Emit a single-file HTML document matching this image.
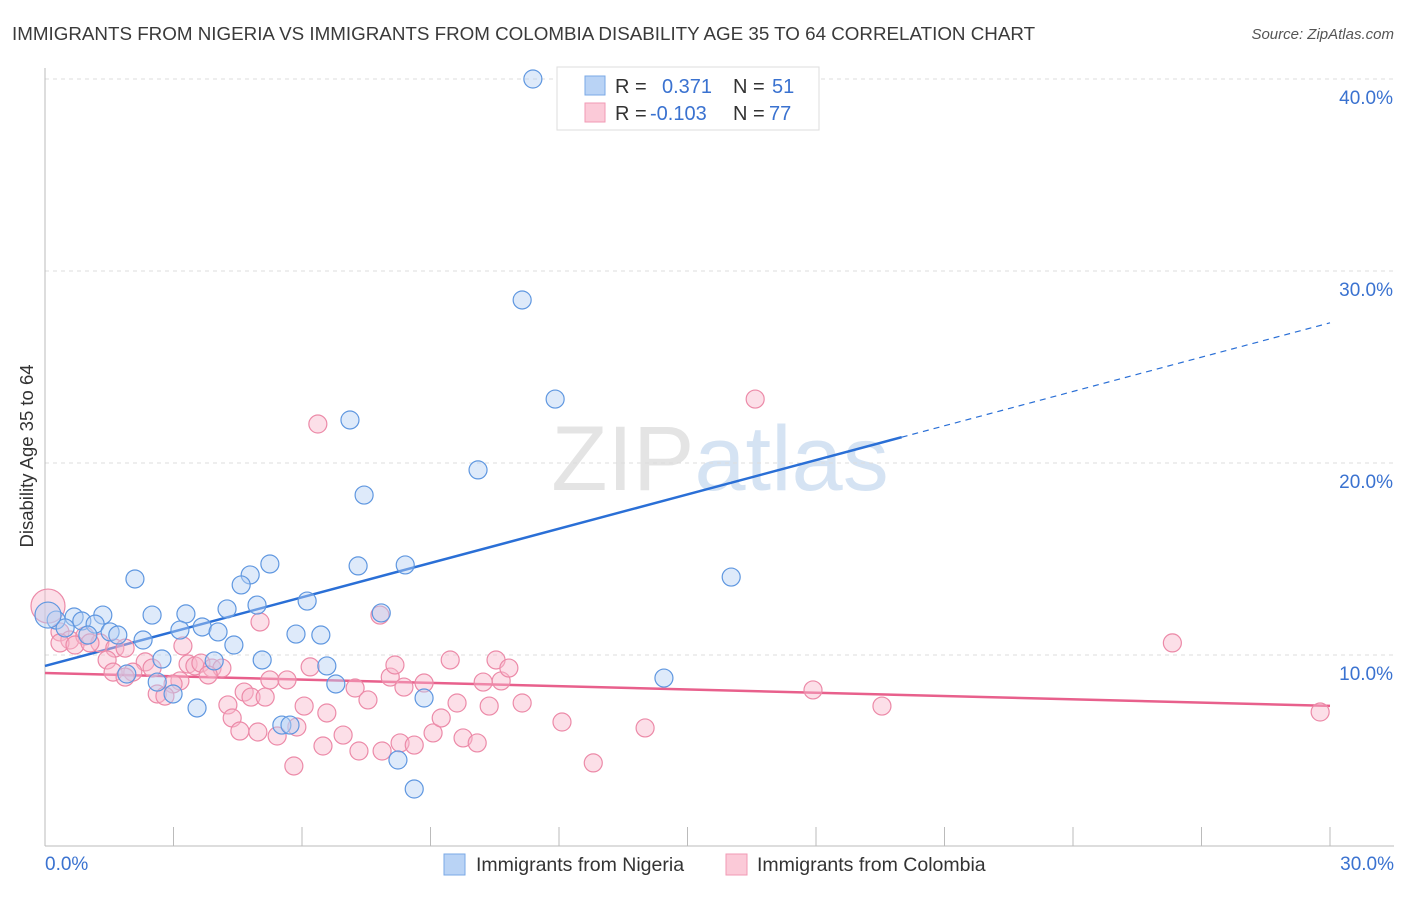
<!DOCTYPE html>
<html><head><meta charset="utf-8"><style>
body{margin:0;background:#fff;font-family:"Liberation Sans",sans-serif;}
svg text{font-family:"Liberation Sans",sans-serif;}
</style></head><body>
<svg id="chart" width="1406" height="892" xmlns="http://www.w3.org/2000/svg">
<text x="12" y="40" font-size="18.8" fill="#3a3a3a">IMMIGRANTS FROM NIGERIA VS IMMIGRANTS FROM COLOMBIA DISABILITY AGE 35 TO 64 CORRELATION CHART</text>
<text x="1394" y="39" font-size="15" fill="#555" text-anchor="end" font-style="italic">Source: ZipAtlas.com</text>
<text x="720" y="490" font-size="92" text-anchor="middle" fill="#e4e4e4" font-family="Liberation Serif">ZIP<tspan fill="#d5e3f3" font-family="Liberation Sans">atlas</tspan></text>
<text transform="translate(33,456) rotate(-90)" font-size="18.5" fill="#333" text-anchor="middle">Disability Age 35 to 64</text>
<g id="grid"></g><g id="axes"></g><g id="lines"></g><g id="pts"></g>
<g>
<rect x="557" y="67" width="262" height="63" fill="#fff" stroke="#ddd"/>
<rect x="585" y="76" width="20" height="19" fill="#b9d3f5" stroke="#7aa8e6"/>
<rect x="585" y="103" width="20" height="19" fill="#fbcad8" stroke="#f19ab4"/>
<text x="615" y="93" font-size="20" fill="#333">R =</text><text x="662" y="93" font-size="20" fill="#3a72d0">0.371</text>
<text x="733" y="93" font-size="20" fill="#333">N =</text><text x="772" y="93" font-size="20" fill="#3a72d0">51</text>
<text x="615" y="120" font-size="20" fill="#333">R =</text><text x="650" y="120" font-size="20" fill="#3a72d0">-0.103</text>
<text x="733" y="120" font-size="20" fill="#333">N =</text><text x="769" y="120" font-size="20" fill="#3a72d0">77</text>
</g>
<g>
<rect x="444" y="854" width="21" height="21" fill="#b9d3f5" stroke="#7aa8e6"/>
<text x="476" y="871" font-size="19.5" fill="#333">Immigrants from Nigeria</text>
<rect x="726" y="854" width="21" height="21" fill="#fbcad8" stroke="#f19ab4"/>
<text x="757" y="871" font-size="19.5" fill="#333">Immigrants from Colombia</text>
</g>
</svg>
<script>
const yTicks=[10,20,30,40];
const yTickLabels=["10.0%","20.0%","30.0%","40.0%"];
const xTickLabels=["0.0%","30.0%"];
const nigeriaX=[11.39,11.14,11.91,7.12,10.11,7.45,16.02,8.41,7.31,5.25,2.10,4.79,4.58,4.95,6.12,4.25,3.29,2.50,1.35,0.68,0.26,0.86,1.17,1.52,1.70,3.15,3.67,4.04,5.86,6.44,7.85,2.29,0.47,1.00,4.41,2.73,3.95,5.07,6.58,1.91,2.62,6.79,14.45,2.99,8.85,3.55,5.53,5.72,8.24,8.62,0.07];
const nigeriaY=[40.0,28.49,23.33,22.24,19.64,18.33,14.06,14.69,14.64,14.74,13.96,14.17,13.65,12.60,12.81,12.40,12.14,12.08,12.08,11.98,11.82,11.77,11.61,11.20,11.04,11.30,11.46,11.20,11.09,11.04,12.19,10.78,11.41,11.04,10.52,9.79,9.69,9.74,9.43,9.01,8.59,8.49,8.80,7.97,7.76,7.24,6.35,6.35,4.53,3.02,12.08];
const colombiaX=[6.37,16.58,7.82,26.32,0.07,5.02,0.35,0.58,0.93,1.28,1.63,0.35,0.70,1.05,1.87,3.22,1.45,2.34,2.50,2.05,1.59,1.87,3.34,3.50,3.64,3.90,4.13,3.81,3.15,2.99,2.62,2.80,4.65,4.81,5.14,4.27,4.37,4.55,5.25,5.65,6.19,6.05,5.88,5.42,5.81,6.49,6.58,6.96,7.24,7.33,7.54,7.87,8.06,8.17,8.38,8.29,8.62,8.85,9.06,9.25,9.46,9.62,9.76,10.09,10.23,10.37,10.53,10.65,10.83,11.14,12.07,12.80,14.01,17.93,19.54,29.77,4.97];
const colombiaY=[22.03,23.33,12.08,10.63,12.55,11.72,11.20,10.78,10.99,10.63,10.36,10.63,10.52,10.63,10.36,10.47,9.74,9.64,9.32,9.11,9.11,8.85,9.53,9.43,9.58,9.32,9.32,8.96,8.65,8.49,7.97,7.86,8.07,7.81,7.81,7.40,6.72,6.04,8.70,8.70,9.38,7.34,6.25,5.78,4.22,5.26,6.98,5.83,8.28,5.00,7.66,5.00,8.85,9.48,8.33,5.42,5.31,8.54,5.94,6.72,9.74,7.50,5.68,5.42,8.59,7.34,9.74,8.65,9.32,7.50,6.51,4.38,6.20,8.18,7.34,7.03,5.99];
const nigeriaTrend=[9.43,27.3];
const colombiaTrend=[9.06,7.35];
const NS="http://www.w3.org/2000/svg";
const X=v=>45+v/30*1285, Y=v=>847-v*19.2;
function mk(tag,attrs,parent){const e=document.createElementNS(NS,tag);for(const k in attrs)e.setAttribute(k,attrs[k]);document.getElementById(parent).appendChild(e);return e;}
yTicks.forEach((t,i)=>{
 const g=mk('line',{x1:45,x2:1394,y1:Y(t),y2:Y(t),stroke:'#ddd','stroke-dasharray':'4,4'},'grid');
 
 
 const l=mk('text',{x:1393,y:Y(t)+25,'font-size':19,fill:'#3a72d0','text-anchor':'end'},'axes');l.textContent=yTickLabels[i];
 
 
});
const ax=mk('line',{x1:45,x2:45,y1:68,y2:846,stroke:'#bbb'},'axes');


const bx=mk('line',{x1:45,x2:1394,y1:846,y2:846,stroke:'#bbb'},'axes');


for(let i=1;i<=10;i++){const t=mk('line',{x1:X(i*3),x2:X(i*3),y1:827,y2:846,stroke:'#bbb'},'axes');
 
 }
[[0,'start',45],[30,'end',1394]].forEach((d,i)=>{const t=mk('text',{x:d[2],y:870,'font-size':19,fill:'#3a72d0','text-anchor':d[1]},'axes');t.textContent=xTickLabels[i];
 
 });
function pts(xs,ys,fill,stroke,name){xs.forEach((x,i)=>{const big=(i==4&&name=='colombia-point')||(i==50&&name=='nigeria-point');const c=mk('circle',{cx:X(x),cy:Y(ys[i]),r:big?(name=='colombia-point'?17:13):9,fill:fill,'fill-opacity':0.45,stroke:stroke,'stroke-width':1.2},'pts');
 
 });}
pts(colombiaX,colombiaY,'#f8b8cb','#ec8aa8','colombia-point');
pts(nigeriaX,nigeriaY,'#b5d0f3','#5f97e0','nigeria-point');
const xb=20;
const bt=v=>nigeriaTrend[0]+(nigeriaTrend[1]-nigeriaTrend[0])*v/30;
const l1=mk('line',{x1:X(0),y1:Y(bt(0)),x2:X(xb),y2:Y(bt(xb)),stroke:'#2a6fd6','stroke-width':2.5},'lines');


const l2=mk('line',{x1:X(xb),y1:Y(bt(xb)),x2:X(30),y2:Y(bt(30)),stroke:'#2a6fd6','stroke-width':1.2,'stroke-dasharray':'6,5'},'lines');


const l3=mk('line',{x1:X(0),y1:Y(colombiaTrend[0]),x2:X(30),y2:Y(colombiaTrend[1]),stroke:'#e8608c','stroke-width':2.5},'lines');


</script>
</body></html>
